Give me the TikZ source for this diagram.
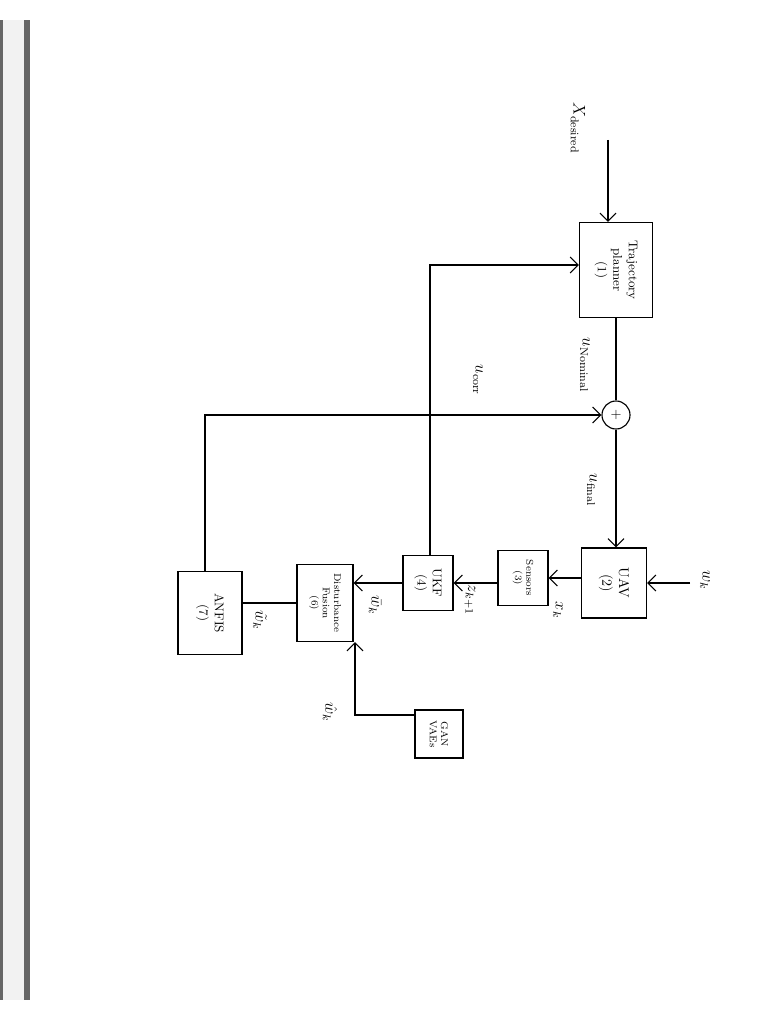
\documentclass[tikz,border=0pt]{standalone}
\usetikzlibrary{arrows.meta}
\begin{document}
\begin{tikzpicture}[x=0.025cm,y=-0.025cm]
	\tikzstyle{block} = [draw, thick, rotate=-90, align=center, inner sep=1pt, font=\small]
	\tikzstyle{lbl} = [rotate=-90, font=\large]
	\tikzstyle{arr} = [thick, -{Straight Barb[length=2mm]}]
	\useasboundingbox (0,0) rectangle (768,1024);
	\fill[black!60] (0,20) rectangle (30,1000);
	\fill[black!5] (3,20) rectangle (24,1000);
	\node [block, minimum width=95*0.025cm, minimum height=73*0.025cm] (plan) at (616,270) {Trajectory\\planner\\(1)};
	\node [draw, thick, circle, inner sep=1pt, minimum size=0.7cm] (sum) at (616,415) {$+$};
	\node [block, minimum width=70*0.025cm, minimum height=65*0.025cm, font=\normalsize] (uav) at (614,583) {UAV\\(2)};
	\node [block, minimum width=55*0.025cm, minimum height=50*0.025cm, font=\scriptsize] (sens) at (523,578) {Sensors\\(3)};
	\node [block, minimum width=55*0.025cm, minimum height=50*0.025cm] (ukf) at (428,583) {UKF\\(4)};
	\node [block, minimum width=77*0.025cm, minimum height=56*0.025cm, font=\scriptsize] (fus) at (325,603) {Disturbance\\Fusion\\(6)};
	\node [block, minimum width=83*0.025cm, minimum height=64*0.025cm] (anf) at (210,613) {ANFIS\\(7)};
	\node [block, minimum width=48*0.025cm, minimum height=48*0.025cm, font=\scriptsize] (gan) at (439,734) {GAN\\VAEs};
	\coordinate (xin) at (608,140);
	\coordinate (win) at (690,583);
	\coordinate (c1) at (430,265);
	\coordinate (c2) at (205,415);
	\coordinate (c3) at (355,715);
	% labels
	\node [lbl] at (578,128) {$X_{\mathrm{desired}}$};
	\node [lbl] at (585,365) {$u_{\mathrm{Nominal}}$};
	\node [lbl] at (592,490) {$u_{\mathrm{final}}$};
	\node [lbl] at (478,380) {$u_{\mathrm{corr}}$};
	\node [lbl] at (705,580) {$w_k$};
	\node [lbl] at (558,610) {$x_k$};
	\node [lbl] at (470,600) {$z_{k+1}$};
	\node [lbl] at (375,605) {$\bar{w}_k$};
	\node [lbl] at (260,620) {$\tilde{w}_k$};
	\node [lbl] at (330,712) {$\hat{w}_k$};
	% connectors
	\draw [arr] (xin) -- (xin |- plan.west);
	\draw [thick] (plan.east -| sum) -- (sum.north);
	\draw [arr] (sum.south) -- (sum.south |- uav.west);
	\draw [arr] (win) -- (uav.north |- win);
	\draw [arr] (sens.north -| uav.south) -- (sens.north);
	\draw [arr] (ukf.north -| sens.south) -- (ukf.north);
	\draw [arr] (ukf.south) -- (fus.north |- ukf.south);
	\draw [thick] (fus.south) -- (anf.north |- fus.south);
	\draw [arr] (ukf.west -| c1) -- (c1) -- (plan.south |- c1);
	\draw [arr] (anf.west -| c2) -- (c2) -- (sum.west);
	\draw [arr] (gan.south |- c3) -- (c3) -- (fus.east -| c3);
\end{tikzpicture}
\end{document}
